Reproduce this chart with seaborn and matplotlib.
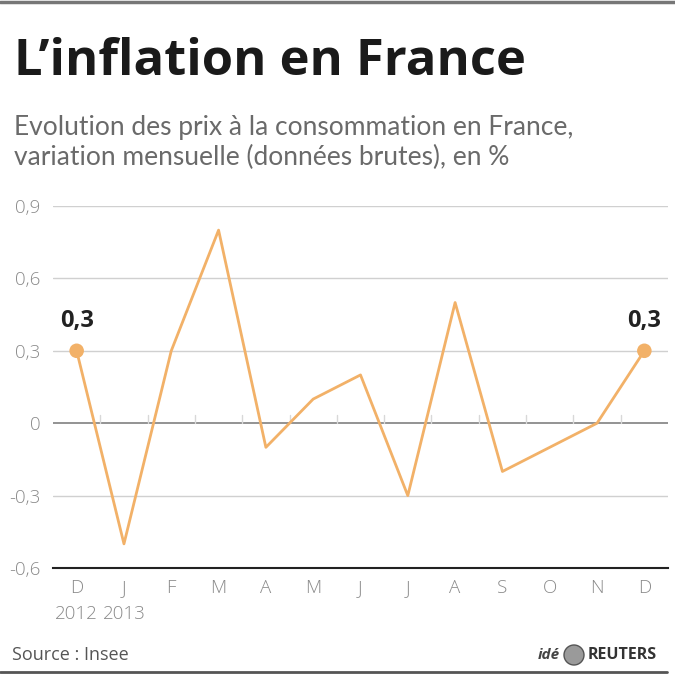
import matplotlib
matplotlib.use("Agg")
import matplotlib.pyplot as plt
import matplotlib.transforms as mtrans
import seaborn as sns
import pandas as pd
from matplotlib.lines import Line2D
from matplotlib.patches import Circle

months = ["D", "J", "F", "M", "A", "M", "J", "J", "A", "S", "O", "N", "D"]
years = ["2012", "2013"]
values = [0.3, -0.5, 0.3, 0.8, -0.1, 0.1, 0.2, -0.3, 0.5, -0.2, -0.1, 0.0, 0.3]
yticks = [-0.6, -0.3, 0, 0.3, 0.6, 0.9]
ytick_labels = ["-0,6", "-0,3", "0", "0,3", "0,6", "0,9"]

df = pd.DataFrame({"idx": list(range(len(values))), "val": values})

sns.set_style("white")
plt.rcParams["font.family"] = ["Open Sans", "DejaVu Sans"]

ORANGE = "#F2B168"
fig = plt.figure(figsize=(6.75, 6.75), dpi=100)
ax = fig.add_axes([53 / 675, 1 - 568 / 675, (668 - 53) / 675, (568 - 206) / 675])

for y in yticks:
    if y == 0:
        ax.axhline(y, color="#8a8a8a", lw=1.3, zorder=1)
    elif y != -0.6:
        ax.axhline(y, color="#d0d0d0", lw=1.0, zorder=1)

# small ticks on zero line between months
for i in range(len(values) - 1):
    ax.plot([i + 0.5, i + 0.5], [0, 0.035], color="#d8d8d8", lw=1.0, zorder=1)

sns.lineplot(data=df, x="idx", y="val", color=ORANGE, lw=2.0, ax=ax, zorder=3)
ends = df.iloc[[0, -1]]
sns.scatterplot(data=ends, x="idx", y="val", color=ORANGE, s=110, edgecolor="none", ax=ax, zorder=4)
for _, r in ends.iterrows():
    ax.text(r["idx"], r["val"] + 0.072, f"{r['val']:.1f}".replace(".", ","), ha="center", va="bottom",
            fontsize=17, fontweight="bold", color="#222222")

ax.set_xlim(-0.5, 12.5)
ax.set_ylim(-0.6, 0.9)
ax.set_yticks(yticks)
ax.set_yticklabels(ytick_labels)
ax.set_xticks(range(len(months)))
ax.set_xticklabels(months)
ax.tick_params(axis="both", length=0, labelsize=13.5, labelcolor="#8a8a8a")
ax.tick_params(axis="x", pad=8)
ax.tick_params(axis="y", pad=9)
for lab in ax.get_xticklabels() + ax.get_yticklabels():
    lab.set_fontweight("light")
ax.set_xlabel("")
ax.set_ylabel("")
for s in ["top", "right", "left"]:
    ax.spines[s].set_visible(False)
ax.spines["bottom"].set_color("#222222")
ax.spines["bottom"].set_linewidth(1.5)

off = mtrans.ScaledTranslation(0, -37 / 100, fig.dpi_scale_trans)
for i, yr in enumerate(years):
    ax.text(i, -0.6, yr, transform=ax.transData + off, ha="center", va="top", fontsize=13.5,
            fontweight="light", color="#8a8a8a")

fig.text(14 / 675, 1 - 62 / 675, "L\u2019inflation en France", fontsize=36.5, fontweight="bold",
         color="#1a1a1a", va="center", ha="left")
fig.text(14 / 675, 1 - 128 / 675, "Evolution des prix à la consommation en France,", fontsize=19,
         color="#6a6a6a", va="center", ha="left", family=["Lato", "DejaVu Sans"])
fig.text(14 / 675, 1 - 157 / 675, "variation mensuelle (données brutes), en %", fontsize=19,
         color="#6a6a6a", va="center", ha="left", family=["Lato", "DejaVu Sans"])
fig.text(12 / 675, 1 - 655 / 675, "Source : Insee", fontsize=13, color="#555555", va="center", ha="left")
fig.text(560 / 675, 1 - 655 / 675, "idé", fontsize=11, fontweight="bold", style="italic", color="#444444",
         va="center", ha="right")
fig.patches.append(Circle((574 / 675, 1 - 655 / 675), 10 / 675, transform=fig.transFigure,
                          facecolor="#9a9a9a", edgecolor="#555555", lw=1))
fig.text(588 / 675, 1 - 655 / 675, "REUTERS", fontsize=11.5, fontweight="bold", color="#333333",
         va="center", ha="left")

fig.lines.append(Line2D([0, 1], [1 - 1.5 / 675, 1 - 1.5 / 675], transform=fig.transFigure, color="#777777", lw=2.5))
fig.lines.append(Line2D([0, 667 / 675], [1 - 672 / 675, 1 - 672 / 675], transform=fig.transFigure,
                        color="#555555", lw=2))

fig.savefig("out.png", dpi=100, facecolor="white")
